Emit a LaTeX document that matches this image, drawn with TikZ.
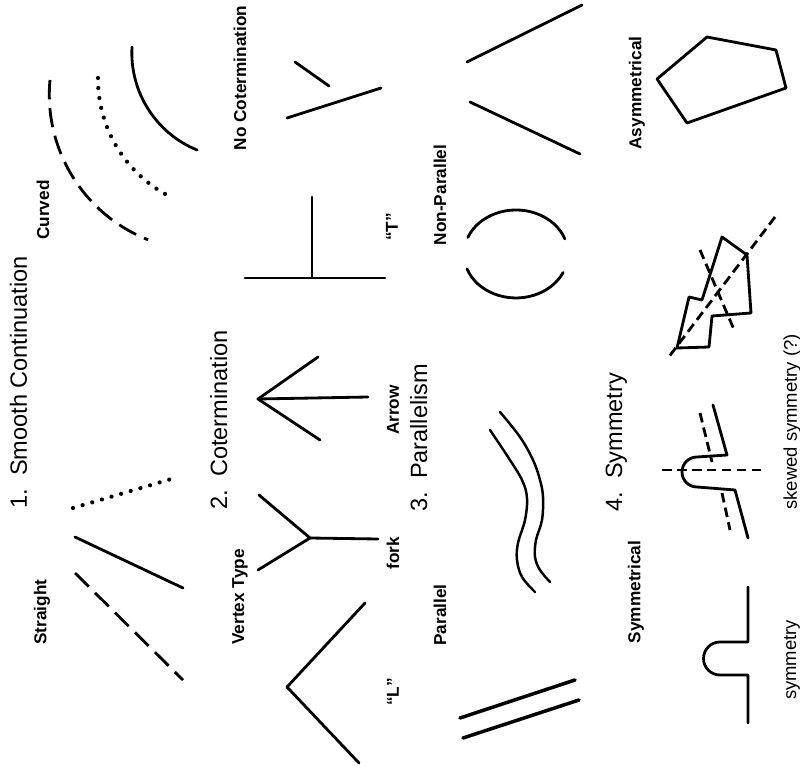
\documentclass[tikz,border=0pt]{standalone}
\usepackage{fontspec}
\setmainfont{Liberation Sans}
\begin{document}
\begin{tikzpicture}[x=0.02cm,y=-0.02cm,
  ln/.style={line width=1.6pt, line cap=round, line join=round},
  ttl/.style={rotate=90, anchor=base west, font=\fontsize{13.4}{15}\selectfont, inner sep=0pt},
  lbl/.style={rotate=90, font=\fontsize{9.8}{11}\selectfont\bfseries, inner sep=0pt},
  rlbl/.style={rotate=90, font=\fontsize{10.5}{12}\selectfont, inner sep=0pt},
  dsh/.style={line cap=butt, dash pattern=on 11pt off 5pt},
  sdsh/.style={line cap=butt, dash pattern=on 5.5pt off 3pt},
  dts/.style={line cap=round, dash pattern=on 0.01pt off 5.7pt, line width=2.4pt}]
\fill[white] (0,0) rectangle (800,776);
\useasboundingbox (0,0) rectangle (800,776);

% titles
\node[ttl] (t1) at (27,509) {1.\ \ Smooth Continuation};
\node[ttl] (t2) at (227,510) {2.\ \ Cotermination};
\node[ttl] (t3) at (427,512) {3.\ \ Parallelism};
\node[ttl] (t4) at (622,512) {4.\ \ Symmetry};

% labels
\node[lbl] (lnocot) at (240,78) {No Cotermination};
\node[lbl] (lcurved) at (43,210) {Curved};
\node[lbl] (lstraight) at (42,612) {Straight};
\node[lbl] (lvertex) at (240,597) {Vertex Type};
\node[lbl] (lT) at (392,227) {“T”};
\node[lbl] (lnonpar) at (440,195) {Non-Parallel};
\node[lbl] (larrow) at (393,410) {Arrow};
\node[lbl] (lfork) at (393,553) {fork};
\node[lbl] (lpar) at (440,615) {Parallel};
\node[lbl] (lL) at (393,692) {“L”};
\node[lbl] (lasym) at (637,93) {Asymmetrical};
\node[lbl] (lsym) at (636,592) {Symmetrical};
\node[rlbl] (lsymmetry) at (792,660) {symmetry};
\node[rlbl] (lskew) at (792,422) {skewed symmetry (?)};

% 1. smooth continuation - curved
\draw[ln] (132,47) arc[start angle=183.2, end angle=112.2, radius=105];
\draw[ln, dts] (98,78) arc[start angle=180.5, end angle=118.5, radius=131.8];
\draw[ln, dsh] (50,80) arc[start angle=185.4, end angle=111.5, radius=156];
% straight
\draw[ln, dts] (73,508) -- (178,477);
\draw[ln] (75,537) -- (183,588);
\draw[ln, dsh] (75,573) -- (183,680);

% 2. cotermination
\draw[ln] (295,62) -- (329,86);
\draw[ln] (287,118) -- (381,88);
\draw[ln] (312,197) -- (312,278);
\draw[ln] (245,278) -- (385,278);
\draw[ln] (318,357) -- (258,399) -- (320,440);
\draw[ln] (258,399) -- (368,397);
\draw[ln] (259,495) -- (310,538) -- (258,570);
\draw[ln] (310,538) -- (378,539);
\draw[ln] (365,603) -- (287,687) -- (359,763);

% 3. parallelism
\draw[ln] (467,62) -- (582,5);
\draw[ln] (470,102) -- (580,154);
\draw[ln] (467.8,237.5) arc[start angle=202, end angle=340, x radius=52, y radius=44];
\draw[ln] (467.1,269) arc[start angle=160, end angle=25, x radius=52, y radius=44];
\draw[ln, line width=1.4pt] plot[smooth, tension=0.6] coordinates {(490,430) (508,457) (522,480) (527,498) (525,520) (518,543) (517,560) (522,577) (535,592)};
\draw[ln, line width=1.4pt] plot[smooth, tension=0.6] coordinates {(500,412) (520,437) (533,460) (540,480) (543,497) (542,520) (536,540) (535,557) (540,570) (550,582)};
\draw[ln, line width=2pt] (460,718) -- (575,680);
\draw[ln, line width=2pt] (463,738) -- (579,700);

% 4. symmetry
\draw[ln] (707,37) -- (776,50) -- (786,88) -- (687,123) -- (657,79) -- cycle;
\draw[ln] (722,237) -- (747,255) -- (751,313) -- (712,316) -- (709,347) -- (677,348) -- (689,297) -- (702,300) -- cycle;
\draw[ln, sdsh] (775,217) -- (668,358);
\draw[ln, sdsh] (700,250) -- (735,332);
\draw[ln] (748,587) -- (748,642) -- (720,642) arc[start angle=270, end angle=90, radius=16.5] -- (748,675) -- (748,723);
\draw[ln] (713,405) -- (727,455) -- (697,457) arc[start angle=270, end angle=90, radius=15] -- (735,490) -- (748,538);
\draw[ln, sdsh] (662,470) -- (762,470);
\draw[ln, sdsh] (700,413) -- (712,462);
\draw[ln, sdsh] (722,493) -- (730,530);
\end{tikzpicture}
\end{document}
